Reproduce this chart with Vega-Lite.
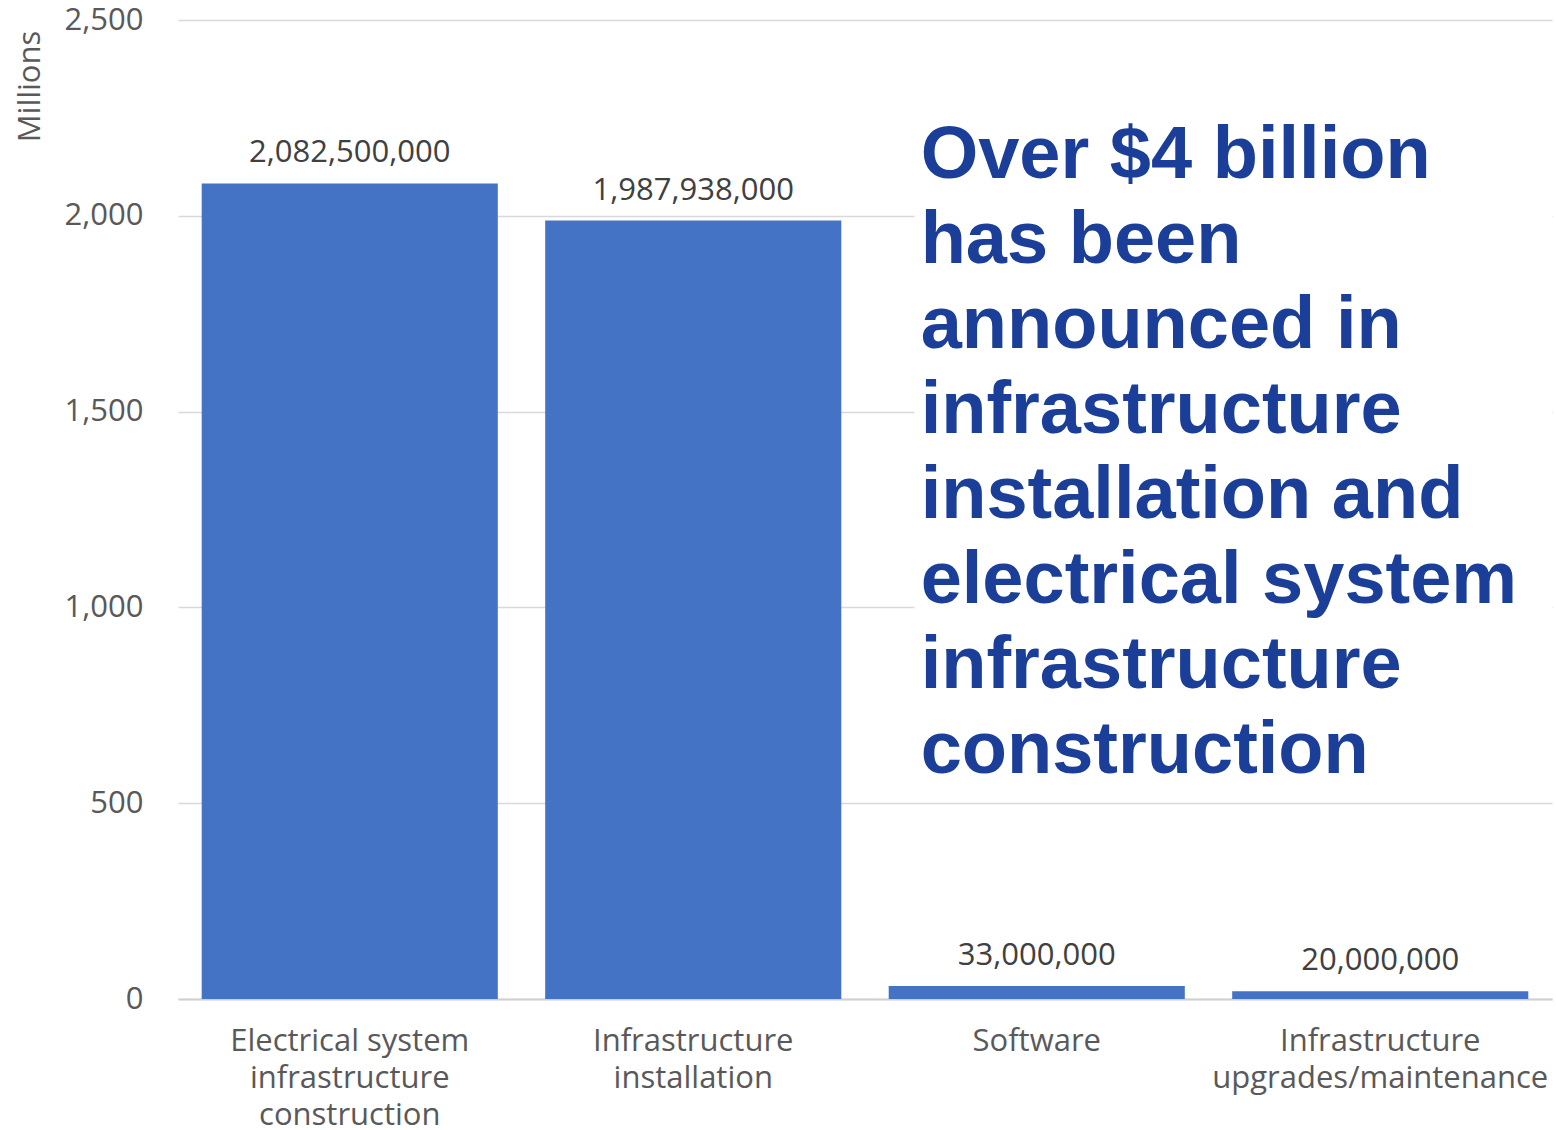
{
  "$schema": "https://vega.github.io/schema/vega-lite/v6.json",
  "autosize": {"type": "none"},
  "width": 1374,
  "height": 979,
  "padding": {"left": 178, "top": 20, "right": 4, "bottom": 131},
  "background": "white",
  "config": {
    "view": {"stroke": null},
    "font": "Open Sans"
  },
  "layer": [
    {
      "data": {"values": [
        {"category": "Electrical system infrastructure construction", "amount": 2082500000},
        {"category": "Infrastructure installation", "amount": 1987938000},
        {"category": "Software", "amount": 33000000},
        {"category": "Infrastructure upgrades/maintenance", "amount": 20000000}
      ]},
      "encoding": {
        "x": {
          "field": "category", "type": "nominal", "sort": null,
          "scale": {"paddingInner": 0.138, "paddingOuter": 0.069},
          "axis": {
            "title": null,
            "labelAngle": 0,
            "labelFont": "Open Sans",
            "labelFontSize": 31,
            "labelColor": "#595959",
            "labelLineHeight": 37,
            "labelPadding": 27,
            "labelBaseline": "top",
            "labelLimit": 0,
            "ticks": false,
            "domainColor": "#d0d0d0",
            "domainWidth": 2,
            "grid": false,
            "labelExpr": "datum.label == 'Electrical system infrastructure construction' ? ['Electrical system','infrastructure','construction'] : datum.label == 'Infrastructure installation' ? ['Infrastructure','installation'] : datum.label == 'Infrastructure upgrades/maintenance' ? ['Infrastructure','upgrades/maintenance'] : datum.label"
          }
        },
        "y": {
          "field": "amount", "type": "quantitative",
          "scale": {"domain": [0, 2500000000], "nice": false},
          "axis": {
            "title": "Millions",
            "titleFont": "Open Sans",
            "titleFontSize": 31,
            "titleFontWeight": "normal",
            "titleColor": "#595959",
            "titleAngle": -90,
            "titleAlign": "center",
            "titleBaseline": "middle",
            "titleX": -148,
            "titleY": 66,
            "values": [0, 500000000, 1000000000, 1500000000, 2000000000, 2500000000],
            "labelExpr": "format(datum.value / 1000000, ',')",
            "labelFont": "Open Sans",
            "labelFontSize": 31,
            "labelColor": "#595959",
            "labelPadding": 35,
            "ticks": false,
            "domain": false,
            "gridColor": "#d9d9d9",
            "gridWidth": 1.5
          }
        }
      },
      "layer": [
        {"mark": {"type": "bar", "color": "#4472C4"}},
        {
          "mark": {"type": "text", "baseline": "alphabetic", "dy": -21, "font": "Open Sans", "fontSize": 31, "color": "#404040"},
          "encoding": {"text": {"field": "amount", "type": "quantitative", "format": ","}}
        }
      ]
    },
    {
      "data": {"values": [{"x0": 0.536, "x1": 1.0, "y0": 534000000, "y1": 2273000000}]},
      "mark": {"type": "rect", "color": "white"},
      "encoding": {
        "x": {"field": "x0", "type": "quantitative", "scale": {"domain": [0, 1]}, "axis": null},
        "x2": {"field": "x1"},
        "y": {"field": "y0", "type": "quantitative"},
        "y2": {"field": "y1"}
      }
    },
    {
      "data": {"values": [{"x": 0.5405, "y": 2096500000, "note": ["Over $4 billion", "has been", "announced in", "infrastructure", "installation and", "electrical system", "infrastructure", "construction"]}]},
      "mark": {"type": "text", "align": "left", "baseline": "alphabetic", "font": "Liberation Sans", "fontWeight": "bold", "fontSize": 74, "lineHeight": 85, "color": "#1B3F98"},
      "encoding": {
        "x": {"field": "x", "type": "quantitative", "scale": {"domain": [0, 1]}, "axis": null},
        "y": {"field": "y", "type": "quantitative"},
        "text": {"field": "note"}
      }
    }
  ],
  "resolve": {"scale": {"x": "independent"}}
}
